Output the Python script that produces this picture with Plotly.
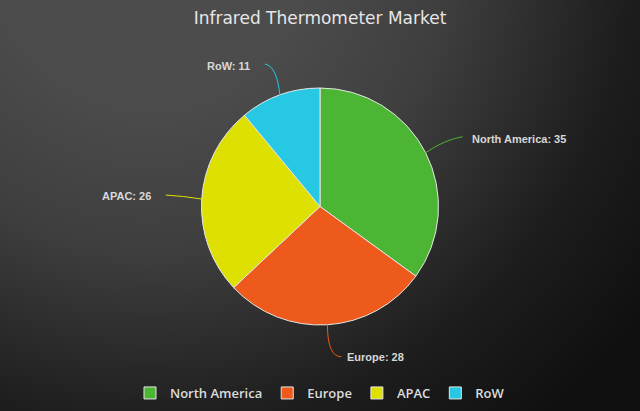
import numpy as np
import math
import plotly.graph_objects as go

# ---- data ----
regions = ["North America", "Europe", "APAC", "RoW"]
shares = [35, 28, 26, 11]
colors = ["#4db534", "#ee5a1c", "#dde000", "#26c8e4"]
title = "Infrared Thermometer Market"

# ---- layout geometry (pixels) ----
W, H = 640, 411
cx, cy, R = 320, 206.5, 118.5
# leader line control/end and text offsets relative to slice edge point
ctrl_off = [(19, -13), (0, 32), (-18, -3), (-3, -29)]
end_off = [(37, -16), (14, 32), (-36, -4), (-15, -31)]
text_off = [(44, -14), (18, 32), (-49, -3), (-28, -29)]
text_anchor = ["left", "left", "right", "right"]


def px(x):
    return x / W


def py(y):
    return 1 - y / H


# ---- background gradient ----
xs = np.linspace(0, W, 81)
ys = np.linspace(0, H, 53)
XX, YY = np.meshgrid(xs, ys)
Z = np.hypot(XX - 150, YY + 50)

fig = go.Figure()
fig.add_trace(go.Heatmap(
    x=xs, y=ys, z=Z, zmin=150, zmax=620, zsmooth="best", showscale=False,
    hoverinfo="skip",
    colorscale=[[0, "#4c4c4c"], [0.32, "#3e3e3e"], [0.70, "#1d1d1d"], [1, "#0f0f0f"]],
))

fig.add_trace(go.Pie(
    labels=regions, values=shares, sort=False, direction="clockwise", rotation=0,
    textinfo="none", hole=0,
    marker=dict(colors=colors, line=dict(color="#e6e6e6", width=1)),
    domain=dict(x=[px(cx - R), px(cx + R)], y=[py(cy + R), py(cy - R)]),
))

# ---- labels with leader lines ----
total = sum(shares)
cum = 0
shapes = []
annotations = []
for i, (name, v) in enumerate(zip(regions, shares)):
    mid = (cum + v / 2) / total * 2 * math.pi
    cum += v
    ex, ey = cx + R * math.sin(mid), cy - R * math.cos(mid)
    c1 = (ex + ctrl_off[i][0], ey + ctrl_off[i][1])
    e1 = (ex + end_off[i][0], ey + end_off[i][1])
    path = (f"M {px(ex):.5f},{py(ey):.5f} Q {px(c1[0]):.5f},{py(c1[1]):.5f} "
            f"{px(e1[0]):.5f},{py(e1[1]):.5f}")
    shapes.append(dict(type="path", xref="paper", yref="paper", path=path,
                       line=dict(color=colors[i], width=1)))
    annotations.append(dict(
        xref="paper", yref="paper", x=px(ex + text_off[i][0]), y=py(ey + text_off[i][1]),
        xanchor=text_anchor[i], yanchor="middle", showarrow=False,
        text=f"{name}: {v}",
        font=dict(family="Liberation Sans, Arial", size=11, color="#d8d8d8", weight="bold"),
    ))

fig.update_layout(
    width=W, height=H,
    margin=dict(l=0, r=0, t=0, b=0),
    paper_bgcolor="#222222", plot_bgcolor="rgba(0,0,0,0)",
    xaxis=dict(range=[0, W], visible=False, domain=[0, 1], fixedrange=True),
    yaxis=dict(range=[H, 0], visible=False, domain=[0, 1], fixedrange=True),
    title=dict(text=title, x=0.5, xanchor="center", y=py(18), yanchor="middle",
               yref="container",
               font=dict(family="DejaVu Sans", size=17, color="#e6e6e6")),
    legend=dict(orientation="h", x=0.5, xanchor="center", y=py(393), yanchor="middle",
                bgcolor="rgba(0,0,0,0)",
                font=dict(family="Open Sans", size=13, color="#dcdcdc", weight=600)),
    shapes=shapes,
    annotations=annotations,
    showlegend=True,
)

fig.write_html("out.html",
               config={"displayModeBar": False},
               post_script="document.body.style.margin='0px';document.body.style.overflow='hidden';")
